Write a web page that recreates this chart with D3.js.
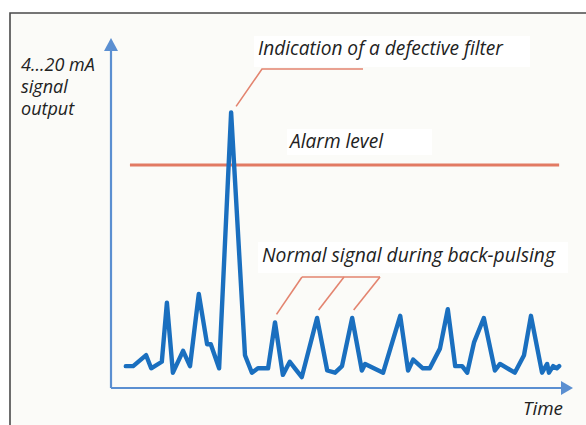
<!DOCTYPE html>
<html><head><meta charset="utf-8">
<script src="https://cdn.jsdelivr.net/npm/d3@7"></script>
<style>
html,body{margin:0;padding:0;background:#fff;}
svg{display:block;}
text{font-family:"Open Sans","Noto Sans",sans-serif;font-style:italic;fill:#222;}
</style></head>
<body>
<script>
// Time (arbitrary units, 0..100) and signal (mA)
const time = [3.2,4.8,7.6,8.7,11.0,12.1,13.4,15.6,17.1,19.0,20.8,21.6,23.4,26.0,29.0,30.5,31.8,34.0,35.5,37.2,38.7,39.8,41.3,44.6,46.8,48.5,50.0,52.2,54.3,55.0,58.9,62.6,64.3,65.4,67.5,69.0,71.2,72.9,74.5,76.0,77.1,78.6,80.7,83.1,84.2,87.4,89.4,90.9,93.3,94.4,94.8,95.7,96.5,97.0];
const signal = [5.0,5.0,5.5,4.9,5.2,7.9,4.7,5.7,5.0,8.3,6.0,6.0,4.9,16.6,5.5,4.7,4.9,4.9,7.0,4.6,5.2,4.9,4.5,7.2,4.8,4.7,5.0,7.2,4.8,5.1,4.7,7.3,4.8,5.3,4.9,4.9,5.8,7.6,5.0,5.0,4.7,6.1,7.2,4.8,5.1,4.7,5.5,7.3,4.7,5.1,4.7,5.0,4.9,5.0];
const alarmLevel = 14.2;
const alarmSpan = [4.1, 97.0];
const defectIndex = 13;           // peak flagged as defective filter
const normalIndices = [18, 23, 27]; // normal back-pulsing peaks
const yLabelLines = ["4...20 mA", "signal", "output"];
const labels = {
  defect: "Indication of a defective filter",
  alarm: "Alarm level",
  normal: "Normal signal during back-pulsing",
  time: "Time"
};

const W = 586, H = 425;
const svg = d3.select("body").append("svg").attr("width", W).attr("height", H);

// frame
svg.append("rect").attr("x", 10).attr("y", 13).attr("width", W).attr("height", H).attr("fill", "#fbfbf8");
svg.append("path").attr("d", `M10,${H} L10,13 L${W},13`).attr("fill", "none").attr("stroke", "#4a4a4a").attr("stroke-width", 1.6);

const x = d3.scaleLinear().domain([0, 100]).range([111, 573]);
const y = d3.scaleLinear().domain([4, 20]).range([388, 38]);

const axisCol = "#5b8fd1";
svg.append("line").attr("x1", x(0)).attr("x2", x(0)).attr("y1", y(4)).attr("y2", y(20) + 10)
  .attr("stroke", axisCol).attr("stroke-width", 2.2);
svg.append("path").attr("d", `M${x(0)},${y(20)} L${x(0) - 7},${y(20) + 13} L${x(0) + 7},${y(20) + 13} Z`).attr("fill", axisCol);
svg.append("line").attr("x1", x(0)).attr("x2", x(100) - 10).attr("y1", y(4)).attr("y2", y(4))
  .attr("stroke", axisCol).attr("stroke-width", 2.2);
svg.append("path").attr("d", `M${x(100)},${y(4)} L${x(100) - 12},${y(4) - 7} L${x(100) - 12},${y(4) + 7} Z`).attr("fill", axisCol);

// labels fitted to target widths
function label(txt, tx, ty, targetW, box) {
  if (box) svg.append("rect").attr("x", box[0]).attr("y", box[1]).attr("width", box[2]).attr("height", box[3]).attr("fill", "#fff");
  const t = svg.append("text").attr("x", tx).attr("y", ty).attr("font-size", 16).text(txt);
  const w = t.node().getComputedTextLength();
  if (w > 0) t.attr("font-size", (16 * targetW / w).toFixed(2));
  return t;
}
label(labels.defect, 258, 55, 245, [254, 36, 276, 31]);
label(labels.alarm, 290, 148, 93, [287, 129, 145, 26]);
label(labels.normal, 262, 262, 293, [258, 242, 310, 31]);
label(labels.time, 523, 415, 40, null);

// multi-line y-axis label
yLabelLines.forEach((t, i) => {
  svg.append("text").attr("x", 21).attr("y", 71 + i * 22).attr("font-size", 18).text(t);
});

// alarm level
svg.append("line").attr("x1", x(alarmSpan[0])).attr("x2", x(alarmSpan[1])).attr("y1", y(alarmLevel)).attr("y2", y(alarmLevel))
  .attr("stroke", "#e27a63").attr("stroke-width", 3);

// leader lines
const leadCol = "#e3846f";
const dp = [x(time[defectIndex]), y(signal[defectIndex])];
svg.append("path").attr("d", `M${dp[0] + 5},${dp[1] - 6} L262,69 L363,69`).attr("fill", "none").attr("stroke", leadCol).attr("stroke-width", 1.6);
const tops = [302, 344, 380];
normalIndices.forEach((idx, i) => {
  const px = x(time[idx]), py = y(signal[idx]);
  svg.append("line").attr("x1", px + 1.5).attr("y1", py - 8).attr("x2", tops[i]).attr("y2", 277)
    .attr("stroke", leadCol).attr("stroke-width", 1.6);
});
svg.append("line").attr("x1", tops[0]).attr("x2", tops[2]).attr("y1", 277).attr("y2", 277).attr("stroke", leadCol).attr("stroke-width", 1.6);

// signal
const line = d3.line().x((d, i) => x(time[i])).y((d, i) => y(signal[i]));
svg.append("path").datum(signal).attr("d", line).attr("fill", "none").attr("stroke", "#1a6fbf")
  .attr("stroke-width", 4.4).attr("stroke-linejoin", "round").attr("stroke-linecap", "round");
</script>
</body></html>
